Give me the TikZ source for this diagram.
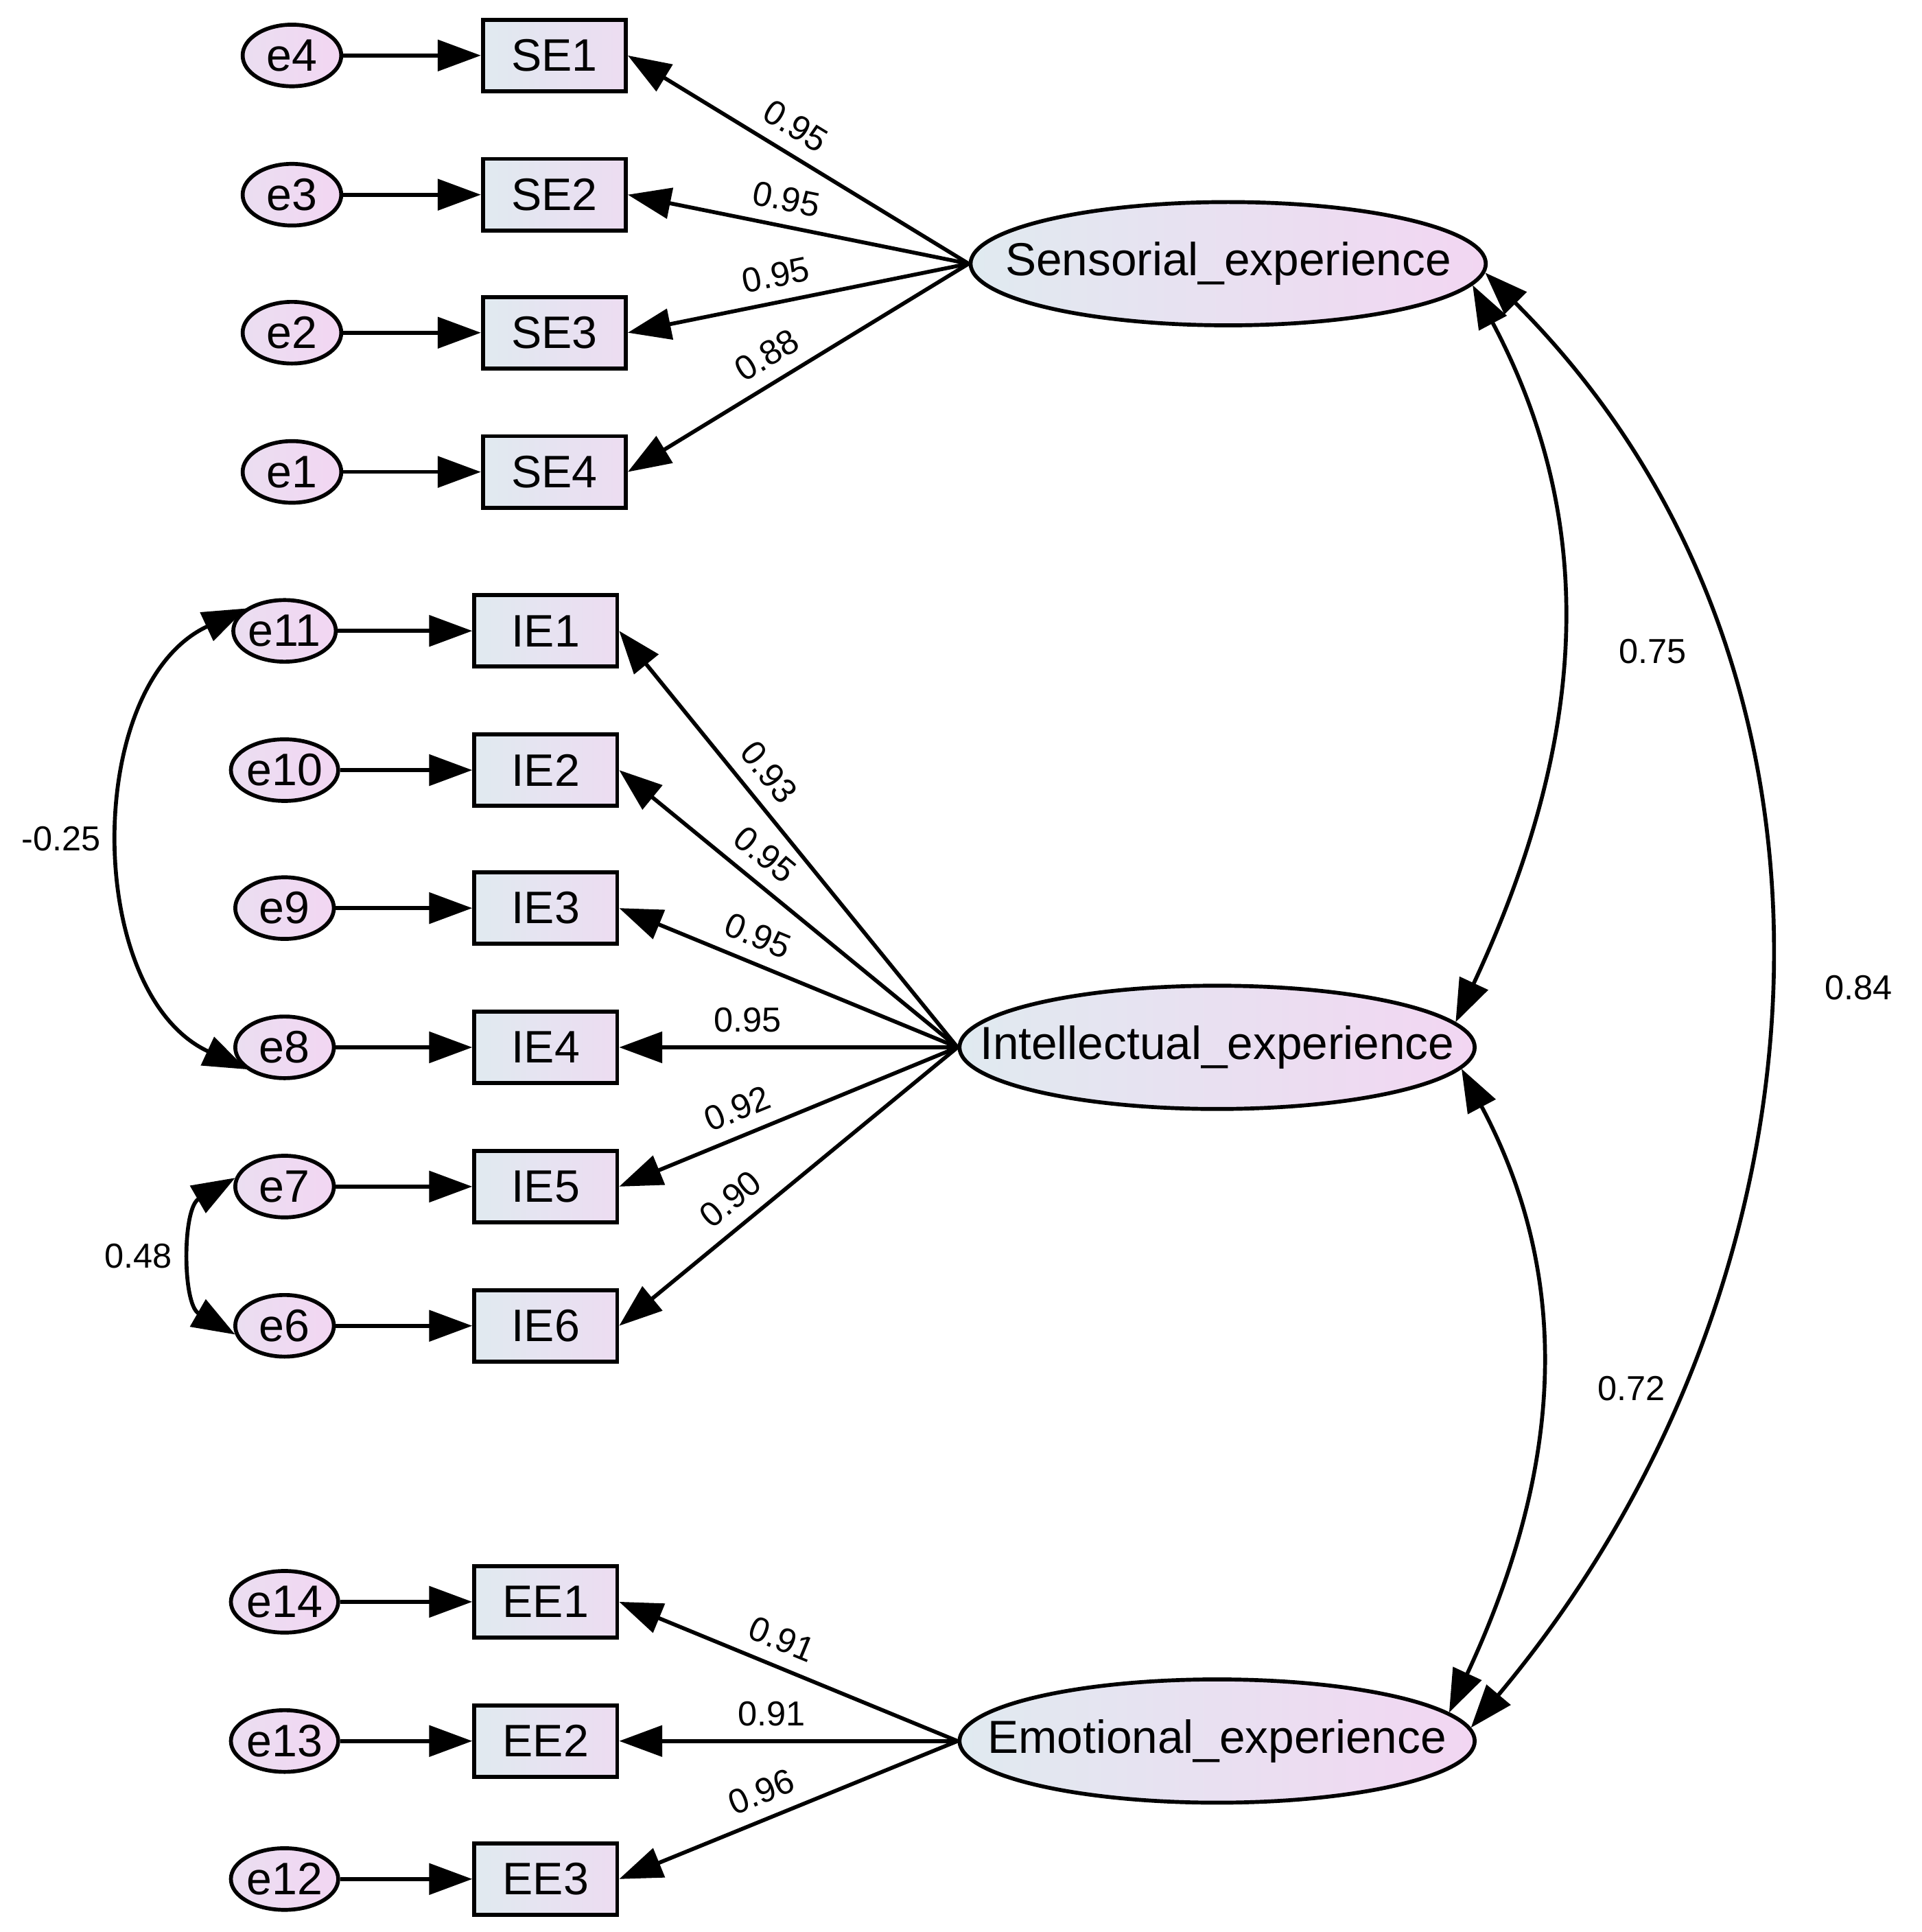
\documentclass[tikz,border=0pt]{standalone}
\usepackage{fontspec}
\setmainfont{Liberation Sans}
\usetikzlibrary{positioning,shapes.geometric,arrows.meta}
\definecolor{shadeL}{RGB}{224,234,240}
\definecolor{shadeR}{RGB}{242,214,242}
\tikzset{
  err/.style={ellipse, draw, line width=0.9pt, minimum width=0.8cm, minimum height=0.5cm, inner sep=0pt, left color=shadeR!60!shadeL, right color=shadeR, font=\fontsize{10.5}{12}\selectfont},
  item/.style={rectangle, draw, line width=0.9pt, minimum width=1.16cm, minimum height=0.58cm, inner sep=0pt, left color=shadeL, right color=shadeR!70!shadeL, font=\fontsize{10.5}{12}\selectfont},
  fac/.style={ellipse, draw, line width=0.9pt, minimum width=4.18cm, minimum height=1cm, inner xsep=-0.48cm, inner ysep=0pt, left color=shadeL, right color=shadeR, font=\fontsize{10.7}{12}\selectfont},
  arr/.style={line width=0.9pt, -{Triangle[length=0.35cm, width=0.25cm]}},
  cov/.style={line width=0.9pt, {Triangle[length=0.35cm, width=0.25cm]}-{Triangle[length=0.35cm, width=0.25cm]}},
  lab/.style={font=\fontsize{8}{9}\selectfont, inner sep=3pt}
}
\begin{document}
\begin{tikzpicture}[x=0.01cm, y=-0.01cm]
  \useasboundingbox (0,0) rectangle (1560,1568);

  % Declare factors.
  \node[fac] (sens) at (997,214) {Sensorial\_experience};
  \node[fac] (intel) at (988,850) {Intellectual\_experience};
  \node[fac] (emo) at (988,1413) {Emotional\_experience};

  % Sensorial items.
  \foreach \i/\e/\y in {1/4/45, 2/3/158, 3/2/270, 4/1/383} {
    \node[err] (e\e) at (237,\y) {e\e};
    \node[item] (SE\i) at (450,\y) {SE\i};
    \draw[arr] (e\e) -- (SE\i);
  }
  % Intellectual items.
  \foreach \i/\e/\y in {1/11/512, 2/10/625, 3/9/737, 4/8/850, 5/7/963, 6/6/1076} {
    \node[err] (e\e) at (231,\y) {e\e};
    \node[item] (IE\i) at (443,\y) {IE\i};
    \draw[arr] (e\e) -- (IE\i);
  }
  % Emotional items.
  \foreach \i/\e/\y in {1/14/1300, 2/13/1413, 3/12/1525} {
    \node[err] (e\e) at (231,\y) {e\e};
    \node[item] (EE\i) at (443,\y) {EE\i};
    \draw[arr] (e\e) -- (EE\i);
  }

  % Loadings.
  \foreach \t/\v in {SE1/0.95, SE2/0.95, SE3/0.95, SE4/0.88}
    \draw[arr] (sens.west) -- node[lab, sloped, above, pos=0.55] {\v} (\t.east);
  \foreach \t/\v in {IE1/0.93, IE2/0.95, IE3/0.95, IE4/0.95, IE5/0.92, IE6/0.90}
    \draw[arr] (intel.west) -- node[lab, sloped, above, pos=0.62] {\v} (\t.east);
  \foreach \t/\v in {EE1/0.91, EE2/0.91, EE3/0.96}
    \draw[arr] (emo.west) -- node[lab, sloped, above, pos=0.55] {\v} (\t.east);

  % Covariances.
  \draw[cov] (sens.-5) to[out=-62, in=65] node[lab, right=10pt] {0.75} (intel.6);
  \draw[cov] (sens.-2) to[out=-45, in=50] node[lab, right=10pt] {0.84} (emo.3);
  \draw[cov] (intel.-5) to[out=-62, in=65] node[lab, right=10pt] {0.72} (emo.7);
  \draw[cov] (e11.150) to[out=-155, in=155] node[lab, left=2pt] {-0.25} (e8.-150);
  \draw[cov] (e7.170) to[out=-150, in=150] node[lab, left=2pt] {0.48} (e6.-170);
\end{tikzpicture}
\end{document}
